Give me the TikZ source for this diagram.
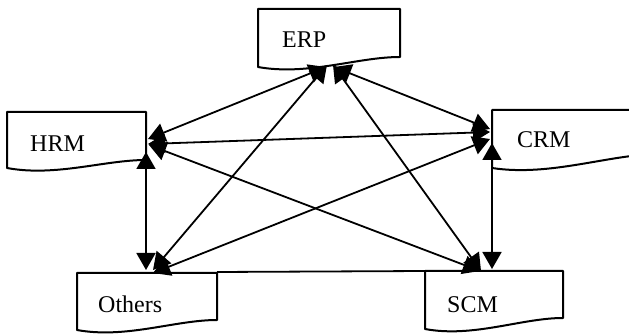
\documentclass[tikz,border=0pt]{standalone}
\usepackage{fontspec}
\setmainfont{Liberation Serif}
\usetikzlibrary{arrows.meta}
\newcommand\docbox[5]{\draw[doc] (#1,#2) -- (#3,#2) -- (#3,#4) .. controls ({#3-0.3*(#3-#1)},#4) and ({#1+0.35*(#3-#1)},{#5+9}) .. (#1,#5) -- cycle;}
\begin{document}
\begin{tikzpicture}[x=1pt,y=-1pt,
  doc/.style={draw, line width=2pt, line join=round},
  lbl/.style={anchor=base west, inner sep=0pt, font=\fontsize{24}{28}\selectfont},
  link/.style={line width=1.8pt, {Triangle[length=17pt,width=19pt]}-{Triangle[length=17pt,width=19pt]}},
  joinline/.style={line width=1.8pt}]
\clip (0,0) rectangle (629,336);
\fill[white] (0,0) rectangle (629,336);
% boxes
\docbox{258}{9}{400}{57}{67}
\docbox{7}{112}{146}{160}{168}
\docbox{492}{110}{660}{154}{168}
\docbox{77}{273}{217}{320}{330}
\docbox{425}{271}{563}{318}{329}
% labels
\node[lbl] (erp) at (282,48) {ERP};
\node[lbl] (hrm) at (30,152) {HRM};
\node[lbl] (crm) at (517,148) {CRM};
\node[lbl] (oth) at (98,313) {Others};
\node[lbl] (scm) at (447,313) {SCM};
% ports
\coordinate (erpH) at (326,67);
\coordinate (erpO) at (327,65);
\coordinate (erpS) at (333,65);
\coordinate (erpC) at (334,67);
\coordinate (hrmE) at (148,139);
\coordinate (hrmC) at (148,144);
\coordinate (hrmS) at (149,145);
\coordinate (hrmO) at (146,152);
\coordinate (crmE) at (490,129);
\coordinate (crmH) at (490,132);
\coordinate (crmO) at (490,139);
\coordinate (crmS) at (492,143);
\coordinate (othH) at (146,270);
\coordinate (othE) at (153,270);
\coordinate (othC) at (153,273);
\coordinate (othS) at (217,272);
\coordinate (scmE) at (481,271);
\coordinate (scmH) at (480,271);
\coordinate (scmC) at (492,269);
\coordinate (scmO) at (425,271);
% connectors
\draw[joinline] (othS) -- (scmO);
\draw[link] (hrmE) -- (erpH);
\draw[link] (othE) -- (erpO);
\draw[link] (scmE) -- (erpS);
\draw[link] (crmE) -- (erpC);
\draw[link] (hrmC) -- (crmH);
\draw[link] (hrmS) -- (scmH);
\draw[link] (hrmO) -- (othH);
\draw[link] (crmO) -- (othC);
\draw[link] (crmS) -- (scmC);
\end{tikzpicture}
\end{document}
